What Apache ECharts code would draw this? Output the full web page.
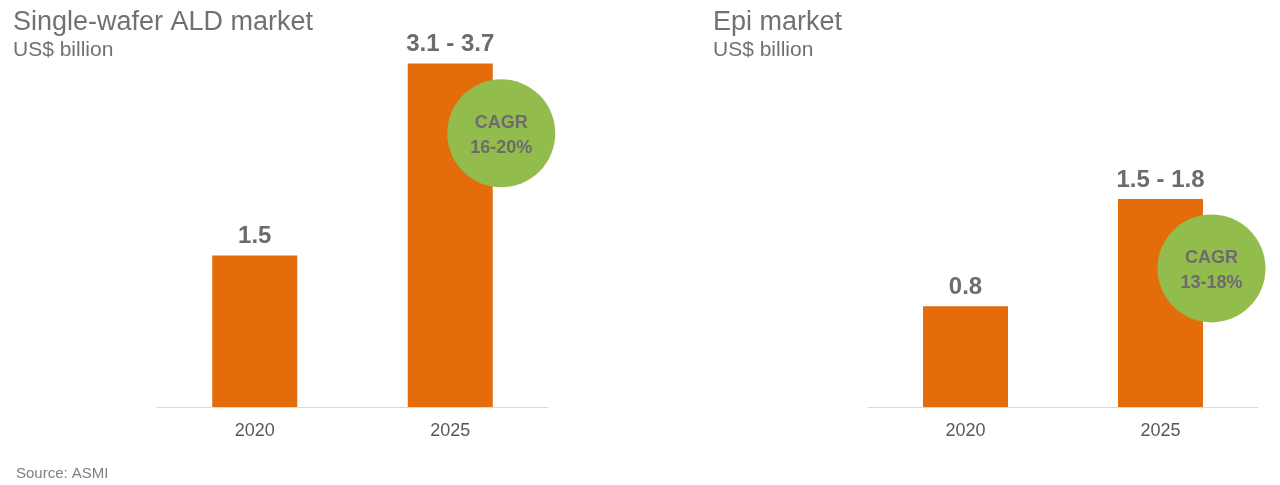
<!DOCTYPE html>
<html>
<head>
<meta charset="utf-8">
<script src="https://cdn.jsdelivr.net/npm/echarts@6/dist/echarts.min.js"></script>
<style>
html,body{margin:0;padding:0;background:#fff;}
#c{width:1280px;height:485px;}
</style>
</head>
<body>
<div id="c"></div>
<script>
const categories = ['2020', '2025'];
const aldValues = [1.5, 3.4];
const aldLabels = ['1.5', '3.1 - 3.7'];
const epiValues = [0.8, 1.65];
const epiLabels = ['0.8', '1.5 - 1.8'];
const aldCagr = 'CAGR\n16-20%';
const epiCagr = 'CAGR\n13-18%';
const aldCagrY = 2.71;
const epiCagrY = 1.1;

const FONT = '"Liberation Sans", Arial, sans-serif';
const ORANGE = '#E46C0A';
const GREEN = '#92BC4C';
const GRAY = '#6E6A6E';
const TGRAY = '#747070';

const chart = echarts.init(document.getElementById('c'));

function xAxis(i) {
  return {
    type: 'category', gridIndex: i, data: categories,
    axisLine: {lineStyle: {color: '#D9D9D9', width: 1}},
    axisTick: {show: false},
    axisLabel: {color: '#595959', fontSize: 18, fontFamily: FONT, margin: 15}
  };
}
function yAxis(i, max) {
  return {type: 'value', gridIndex: i, min: 0, max: max, show: false, splitLine: {show: false}};
}
function bars(i, vals, labels) {
  return {
    type: 'bar', xAxisIndex: i, yAxisIndex: i, data: vals, barWidth: 85,
    itemStyle: {color: ORANGE},
    label: {
      show: true, position: 'top', distance: 7,
      formatter: p => labels[p.dataIndex],
      color: GRAY, fontSize: 24, fontWeight: 'bold', fontFamily: FONT
    },
    z: 2
  };
}
function circle(i, y, text) {
  return {
    type: 'scatter', xAxisIndex: i, yAxisIndex: i,
    data: [[categories[1], y]], symbol: 'circle', symbolSize: 108,
    symbolOffset: [51, 0],
    itemStyle: {color: GREEN, opacity: 1},
    label: {
      show: true, position: 'inside', formatter: text, offset: [0, 2],
      color: GRAY, fontSize: 18, fontWeight: 'bold', fontFamily: FONT, lineHeight: 25
    },
    z: 5, silent: true
  };
}

chart.setOption({
  animation: false,
  backgroundColor: '#fff',
  title: [
    {text: 'Single-wafer ALD market', left: 8, top: 4, textStyle: {fontSize: 27, fontWeight: 'normal', color: TGRAY, fontFamily: FONT}},
    {text: 'US$ billion', left: 8, top: 35, textStyle: {fontSize: 21, fontWeight: 'normal', color: TGRAY, fontFamily: FONT}},
    {text: 'Epi market', left: 708, top: 4, textStyle: {fontSize: 27, fontWeight: 'normal', color: TGRAY, fontFamily: FONT}},
    {text: 'US$ billion', left: 708, top: 35, textStyle: {fontSize: 21, fontWeight: 'normal', color: TGRAY, fontFamily: FONT}},
    {text: 'Source: ASMI', left: 11, top: 461, textStyle: {fontSize: 15, fontWeight: 'normal', color: '#7F7F7F', fontFamily: FONT}}
  ],
  grid: [
    {left: 157, right: 732, top: 3, bottom: 78},
    {left: 868, right: 22, top: 29, bottom: 78}
  ],
  xAxis: [xAxis(0), xAxis(1)],
  yAxis: [yAxis(0, 4), yAxis(1, 3)],
  series: [
    bars(0, aldValues, aldLabels),
    bars(1, epiValues, epiLabels),
    circle(0, aldCagrY, aldCagr),
    circle(1, epiCagrY, epiCagr)
  ]
});
</script>
</body>
</html>
